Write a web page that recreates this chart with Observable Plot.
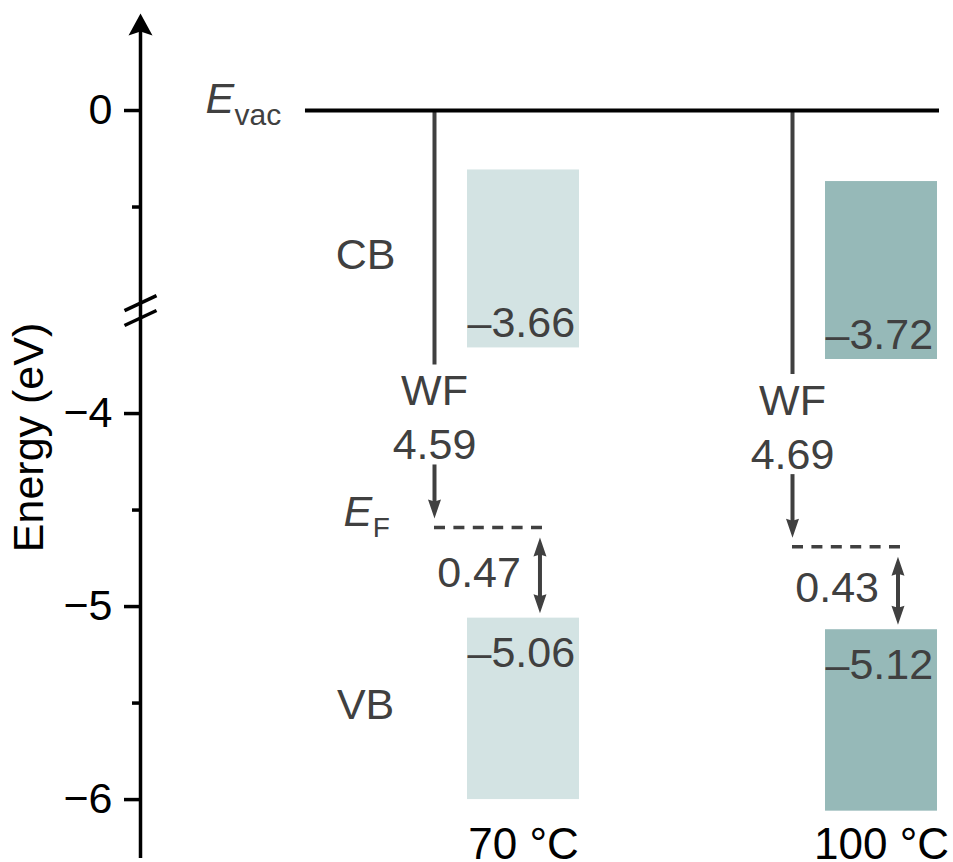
<!DOCTYPE html>
<html>
<head>
<meta charset="utf-8">
<script src="https://cdn.jsdelivr.net/npm/d3@7"></script>
<script src="https://cdn.jsdelivr.net/npm/@observablehq/plot@0.6"></script>
<style>
  html, body { margin: 0; padding: 0; background: #fff; }
  #chart svg { display: block; }
</style>
</head>
<body>
<div id="chart"></div>
<script>
// Band-edge energies (eV, relative to the vacuum level) for the two annealing temperatures
const samples = ["70 °C", "100 °C"];
const cbMin = [-3.66, -3.72];        // conduction-band minimum
const vbMax = [-5.06, -5.12];        // valence-band maximum
const workFunction = [4.59, 4.69];   // E_vac − E_F
const fermiToVb = [0.47, 0.43];      // E_F − VB
const vacuumLevel = 0;
const yTicks = [0, -4, -5, -6];
const yTickLabels = ["0", "−4", "−5", "−6"];
const yMinorTicks = [-0.5, -4.5, -5.5];
const boxColors = ["#d3e3e3", "#96b9b8"];

const W = 953, H = 862, ML = 140;
const ink = "#404040";
const FS = 43;

// Broken energy axis: everything above the break is drawn shifted down,
// so that 0 eV sits just above the −3.5 eV region.
const BREAK = -2, SHIFT = -2.43;
const disp = e => (e > BREAK ? e + SHIFT : e);
const yDomain = [-6.326, -1.860];
const PX = (yDomain[1] - yDomain[0]) / H;          // energy units per pixel

// Horizontal layout: sample i is centred at x = i
const xDomain = [-1.0698, 1.2011];
const XPX = (xDomain[1] - xDomain[0]) / (W - ML);  // x units per pixel
const AXIS_X = xDomain[0];
const BOX_HALF = 0.1564, WF_DX = -0.2486, GAP_DX = 0.046, EF_END = 0.053;
const CB_HEIGHT = 0.922, VB_HEIGHT = 0.94;

const rows = samples.map((sample, i) => {
  const ef = -workFunction[i];
  return {
    sample, u: i, cb: cbMin[i], vb: vbMax[i], ef,
    wf: workFunction[i], gap: fermiToVb[i],
    // the "WF" label sits a little below the middle of the E_vac → E_F drop
    wfMid: (disp(vacuumLevel) + ef) / 2 - 96 * PX
  };
});

const tickLabel = new Map(yTicks.map((t, i) => [disp(t), yTickLabels[i]]));

// filled arrowhead, tip at the origin pointing up
const head = (len, half, notch) => ({
  draw(ctx) {
    ctx.moveTo(0, 0);
    ctx.lineTo(half, len);
    ctx.lineTo(0, len - notch);
    ctx.lineTo(-half, len);
    ctx.closePath();
  }
});
const smallHead = head(19, 6.5, 2);

const AXIS_TIP = yDomain[1] - 13 * PX;
const breakCentres = [-3.4275, -3.505];

const chart = Plot.plot({
  width: W,
  height: H,
  marginLeft: ML,
  marginRight: 0,
  marginTop: 0,
  marginBottom: 0,
  style: { fontFamily: "'Liberation Sans', Arial, sans-serif", fontSize: FS + "px", background: "#fff" },
  x: { domain: xDomain, axis: null },
  y: { domain: yDomain },
  color: { domain: samples, range: boxColors },
  marks: [
    // conduction and valence bands
    Plot.rect(rows, {
      x1: d => d.u - BOX_HALF, x2: d => d.u + BOX_HALF,
      y1: d => disp(d.cb), y2: d => disp(d.cb) + CB_HEIGHT, fill: "sample"
    }),
    Plot.rect(rows, {
      x1: d => d.u - BOX_HALF, x2: d => d.u + BOX_HALF,
      y1: d => d.vb - VB_HEIGHT, y2: d => d.vb, fill: "sample"
    }),

    // work-function drop from E_vac to E_F
    Plot.ruleX(rows, {
      x: d => d.u + WF_DX, y1: () => disp(vacuumLevel), y2: "wfMid",
      insetBottom: 50, stroke: ink, strokeWidth: 4
    }),
    Plot.ruleX(rows, {
      x: d => d.u + WF_DX, y1: "wfMid", y2: "ef",
      insetTop: 50, insetBottom: 24, stroke: ink, strokeWidth: 4
    }),
    Plot.dot(rows, {
      x: d => d.u + WF_DX, y: "ef", dy: -9, rotate: 180,
      symbol: smallHead, fill: ink, stroke: "none"
    }),
    Plot.text(rows, {
      x: d => d.u + WF_DX, y: "wfMid",
      text: d => `WF\n${d.wf.toFixed(2)}`, lineHeight: 1.26, fill: ink
    }),

    // vacuum level
    Plot.ruleY([vacuumLevel], { y: disp, x1: -0.609, x2: 1.162, stroke: "black", strokeWidth: 4 }),

    // Fermi level
    Plot.ruleY(rows, {
      y: "ef", x1: d => d.u + WF_DX, x2: d => d.u + EF_END,
      stroke: ink, strokeWidth: 3.5, strokeDasharray: "11,8.4"
    }),

    // E_F − VB separation
    Plot.ruleX(rows, {
      x: d => d.u + GAP_DX, y1: "ef", y2: "vb",
      insetTop: 24, insetBottom: 19, stroke: ink, strokeWidth: 4
    }),
    Plot.dot(rows, { x: d => d.u + GAP_DX, y: "ef", dy: 10, symbol: smallHead, fill: ink, stroke: "none" }),
    Plot.dot(rows, { x: d => d.u + GAP_DX, y: "vb", dy: -5, rotate: 180, symbol: smallHead, fill: ink, stroke: "none" }),
    Plot.text(rows, {
      x: d => d.u + GAP_DX, dx: -19, y: d => (d.ef + d.vb) / 2,
      text: d => d.gap.toFixed(2), textAnchor: "end", fill: ink
    }),

    // band-edge values
    Plot.text(rows, {
      x: d => d.u - BOX_HALF, y: d => disp(d.cb), dy: -11,
      text: d => "–" + Math.abs(d.cb).toFixed(2),
      textAnchor: "start", lineAnchor: "bottom", fill: ink
    }),
    Plot.text(rows, {
      x: d => d.u - BOX_HALF, y: "vb", dy: 49,
      text: d => "–" + Math.abs(d.vb).toFixed(2),
      textAnchor: "start", lineAnchor: "bottom", fill: ink
    }),

    // band and level names
    Plot.text(["CB"], { x: -0.441, y: () => disp(cbMin[0]) + CB_HEIGHT / 2 + 3.5 * PX, fill: ink }),
    Plot.text(["VB"], { x: -0.441, y: () => vbMax[0] - VB_HEIGHT / 2 + 3.5 * PX, fill: ink }),
    Plot.text(["E"], {
      x: -0.888, y: () => disp(vacuumLevel), dy: 2, fontStyle: "italic",
      textAnchor: "start", lineAnchor: "bottom", fill: ink
    }),
    Plot.text(["vac"], {
      x: -0.8073, y: () => disp(vacuumLevel), dy: 14, fontSize: 30,
      textAnchor: "start", lineAnchor: "bottom", fill: ink
    }),
    Plot.text(["E"], {
      x: -0.5028, y: () => -workFunction[0], dy: -1, fontStyle: "italic",
      textAnchor: "start", lineAnchor: "bottom", fill: ink
    }),
    Plot.text(["F"], {
      x: -0.421, y: () => -workFunction[0], dy: 10, fontSize: 28,
      textAnchor: "start", lineAnchor: "bottom", fill: ink
    }),

    // sample names
    Plot.text(rows, {
      x: "u", frameAnchor: "bottom", dy: -4, lineAnchor: "bottom",
      text: "sample", fontSize: 44, fill: "black"
    }),

    // energy axis with break marks and arrow
    Plot.ruleX([AXIS_X], {
      x: d => d, y1: yDomain[0] + 4 * PX, y2: AXIS_TIP - 16 * PX,
      stroke: "black", strokeWidth: 3.5
    }),
    Plot.dot([AXIS_X], {
      x: d => d, y: AXIS_TIP, symbol: head(22, 12, 4), fill: "black", stroke: "none"
    }),
    Plot.link(breakCentres, {
      x1: AXIS_X - 16 * XPX, x2: AXIS_X + 16 * XPX,
      y1: d => d - 7.5 * PX, y2: d => d + 7.5 * PX,
      stroke: "black", strokeWidth: 3.5
    }),
    Plot.axisY({
      ticks: yTicks.map(disp), tickFormat: d => tickLabel.get(d),
      tickSize: 16, tickPadding: 12, strokeWidth: 3.5,
      fontSize: FS, color: "black", label: null
    }),
    Plot.axisY({
      ticks: yMinorTicks.map(disp), tickFormat: () => "",
      tickSize: 8, strokeWidth: 3.5, color: "black", label: null
    }),
    Plot.text(["Energy (eV)"], {
      x: -1.3408, y: -4.124, rotate: -90,
      textAnchor: "middle", lineAnchor: "bottom", fill: "black"
    })
  ]
});

document.getElementById("chart").appendChild(chart);
</script>
</body>
</html>
